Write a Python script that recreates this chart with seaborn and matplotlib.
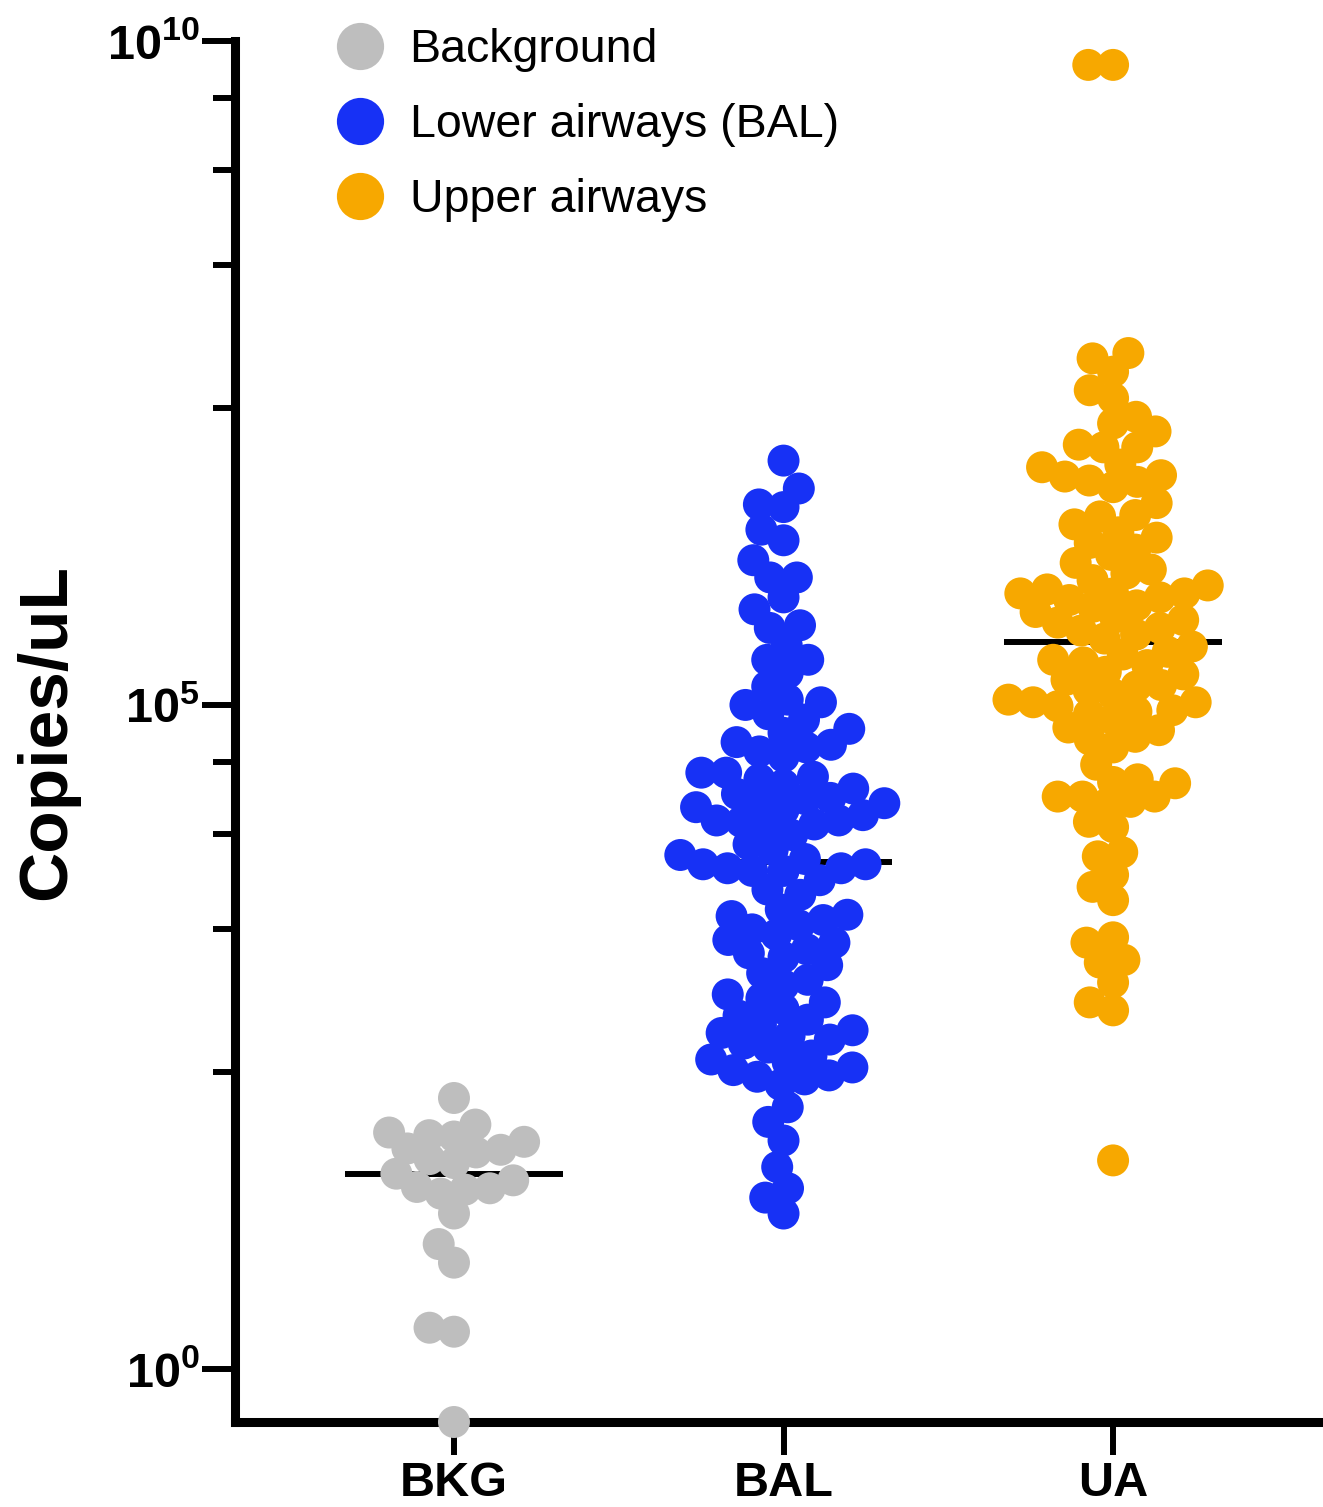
import matplotlib
matplotlib.use('Agg')
import matplotlib.pyplot as plt
import numpy as np
import pandas as pd
import seaborn as sns
from matplotlib.lines import Line2D
from matplotlib.ticker import NullFormatter


# groups on the x axis and legend text
groups = ['BKG', 'BAL', 'UA']
legend_labels = ['Background', 'Lower airways (BAL)', 'Upper airways']
colors = ['#BEBEBE', '#1731F5', '#F7A800']

# log10(copies/uL)
bkg_log10 = [2.04, 1.84, 1.78, 1.76, 1.75, 1.71, 1.66, 1.65, 1.63, 1.58, 1.55,
             1.47, 1.42, 1.37, 1.36, 1.35, 1.32, 1.17, 0.94, 0.80, 0.31, 0.28,
             -0.40]

bal_log10 = [6.84, 6.63, 6.51, 6.49, 6.32, 6.24, 6.09, 5.96, 5.96, 5.81, 5.72,
             5.60, 5.58, 5.45, 5.34, 5.34, 5.24, 5.14, 5.04, 5.02, 5.00,
             4.93, 4.89, 4.82, 4.79, 4.72, 4.70, 4.68, 4.65, 4.61,
             4.49, 4.49, 4.46, 4.44, 4.40, 4.37, 4.33, 4.30, 4.29, 4.26, 4.26,
             4.23, 4.21, 4.17, 4.13, 4.13, 4.12, 4.10, 4.08, 4.02,
             3.95, 3.91, 3.87, 3.84, 3.80, 3.80, 3.77, 3.77, 3.75, 3.75, 3.68,
             3.61, 3.57,
             3.46, 3.42, 3.41, 3.38, 3.34, 3.31, 3.27, 3.23, 3.21, 3.16, 3.13,
             3.10, 3.04, 2.98, 2.93, 2.89, 2.82, 2.79,
             2.76, 2.71, 2.66, 2.63, 2.59, 2.55, 2.53, 2.51, 2.48, 2.45, 2.42,
             2.36, 2.33, 2.31, 2.27, 2.25, 2.21, 2.20, 2.18, 2.14,
             1.97, 1.86, 1.72, 1.52, 1.36, 1.29, 1.17]

ua_log10 = [9.82, 9.82,
            7.65, 7.61, 7.51, 7.37, 7.31, 7.17, 7.12, 7.06, 6.96, 6.94, 6.94,
            6.81, 6.79, 6.73, 6.72, 6.69, 6.68, 6.64,
            6.52, 6.43, 6.42, 6.30, 6.22, 6.17, 6.07, 6.02, 5.99, 5.87, 5.84,
            5.84, 5.84, 5.79, 5.74, 5.66, 5.62, 5.56,
            6.36, 6.26, 6.13, 5.94, 5.90, 5.81, 5.75, 5.70, 5.64, 5.58, 5.53,
            5.50,
            5.44, 5.40, 5.38, 5.34, 5.32, 5.30, 5.25, 5.23, 5.19, 5.15, 5.14,
            5.11, 5.08, 5.04, 5.02, 5.02, 4.99, 4.96, 4.95, 4.93, 4.89, 4.83,
            4.81, 4.76, 4.74, 4.68, 4.55, 4.44, 4.42, 4.41, 4.31, 4.31, 4.31,
            4.27, 4.25, 4.12, 4.08, 3.89, 3.86, 3.72, 3.63, 3.53, 3.25, 3.21,
            3.08, 3.06, 2.91, 2.76, 2.70, 1.57]

df = pd.DataFrame({
    'group': ['BKG'] * len(bkg_log10) + ['BAL'] * len(bal_log10) + ['UA'] * len(ua_log10),
    'copies': 10 ** np.array(bkg_log10 + bal_log10 + ua_log10),
})

sns.set_style('ticks')
plt.rcParams['font.family'] = ['Liberation Sans', 'DejaVu Sans']
plt.rcParams['mathtext.fontset'] = 'custom'
plt.rcParams['mathtext.rm'] = 'Liberation Sans:bold'
plt.rcParams['mathtext.bf'] = 'Liberation Sans:bold'
for key in ['text.color', 'axes.labelcolor', 'xtick.color', 'ytick.color']:
    plt.rcParams[key] = 'black'

W, H = 1323, 1507
fig = plt.figure(figsize=(W / 100, H / 100), dpi=100)
ax = fig.add_axes([234.5 / W, 1 - 1422 / H, 1 - 234.5 / W, (1422 - 41) / H])

# swarm laid out with a smaller marker so the dots overlap like in the original
sns.swarmplot(data=df, x='group', y='copies', hue='group', order=groups,
              hue_order=groups, palette=colors, size=17, linewidth=0,
              log_scale=True, legend=False, ax=ax)

ax.set_xlim(-0.666, 2.637)
ax.set_ylim(10 ** -0.4, 1e10)

# median lines
for i, g in enumerate(groups):
    med = np.median(df.loc[df.group == g, 'copies'])
    ax.hlines(med, i - 0.33, i + 0.33, color='black', lw=4.3, zorder=2)

fig.canvas.draw()
for coll in ax.collections:
    if 'draw' in vars(coll):
        del coll.draw   # freeze the beeswarm positions
        coll.set_sizes([530])
        coll.set_clip_on(False)
        coll.set_zorder(3)

# y ticks
ax.set_yticks([1, 1e5, 1e10])
ax.set_yticklabels([r'$\mathbf{10^{0}}$', r'$\mathbf{10^{5}}$', r'$\mathbf{10^{10}}$'])
minor = [10 ** (5 * b + 5 * np.log10(1 + 1.8 * k)) for b in (0, 1) for k in (1, 2, 3, 4)]
ax.set_yticks(minor, minor=True)
ax.yaxis.set_minor_formatter(NullFormatter())
ax.tick_params(axis='y', which='major', length=24, width=4.3, pad=1, labelsize=35, color='black')
ax.tick_params(axis='y', which='minor', length=15.5, width=4.3, color='black')
ax.tick_params(axis='x', which='major', length=24, width=4.3, pad=4, labelsize=35, color='black')
for lbl in ax.get_xticklabels():
    lbl.set_fontweight('bold')

ax.set_xlabel('')
ax.set_ylabel('Copies/uL', fontsize=50, fontweight='bold', labelpad=20)

for side in ['top', 'right']:
    ax.spines[side].set_visible(False)
for side in ['left', 'bottom']:
    ax.spines[side].set_linewidth(6.5)
    ax.spines[side].set_color('black')

handles = [Line2D([], [], marker='o', ls='none', markersize=34, markeredgewidth=0,
                  color=c) for c in colors]
ax.legend(handles, legend_labels, loc='upper left', bbox_to_anchor=(337 / W, 1 - 28 / H),
          bbox_transform=fig.transFigure, frameon=False, fontsize=33.5,
          handlelength=1.0, handletextpad=0.56, labelspacing=0.67,
          borderpad=0, borderaxespad=0)

fig.savefig('out.png', dpi=100)
